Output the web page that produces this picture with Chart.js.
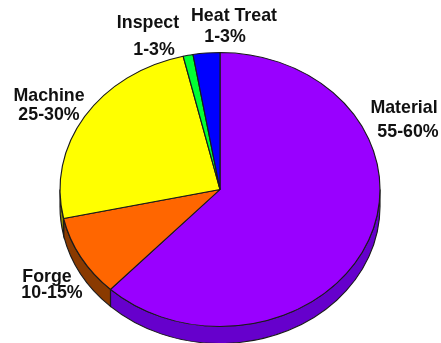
<!DOCTYPE html>
<html>
<head>
<meta charset="utf-8">
<style>
  html, body { margin: 0; background: #fff; }
  canvas { display: block; }
</style>
<script src="https://cdn.jsdelivr.net/npm/chart.js@4/dist/chart.umd.min.js"></script>
</head>
<body>
<canvas id="costPie" width="441" height="343"></canvas>
<script>
const categories = ['Material', 'Forge', 'Machine', 'Inspect', 'Heat Treat']
const ranges = ['55-60%', '10-15%', '25-30%', '1-3%', '1-3%']
const shares = [62, 9.6, 24.7, 1, 2.7]
const faceColors = ['#9900FF', '#FF6600', '#FFFF00', '#00FF33', '#0000FF']
const wallColors = ['#6600CC', '#8A3A00', '#8A8A00', '#008A1C', '#00008A']

// label anchors: name x, name y, range x, range y
const labelSpots = [
  [404, 108, 408, 132],
  [47, 277, 52, 293],
  [49, 96, 49, 115],
  [148, 23, 154, 50],
  [234, 16, 225, 37],
]

const stretchX = 160 / 137
const wallDepth = 17

function stretch(ctx, cx) {
  ctx.translate(cx, 0)
  ctx.scale(stretchX, 1)
  ctx.translate(-cx, 0)
}

// the pie controller only draws a flat circle, so the oval and the rim are done here
const tiltedPie = {
  id: 'tiltedPie',
  beforeDatasetsDraw(chart) {
    const ctx = chart.ctx
    const arcs = chart.getDatasetMeta(0).data

    // left on the stack until afterDatasetsDraw so the slices get stretched too
    ctx.save()
    stretch(ctx, arcs[0].x)

    arcs.forEach((arc, i) => {
      // angles start at -PI/2, so the lower half is 0..PI
      const from = Math.max(arc.startAngle, 0)
      const to = Math.min(arc.endAngle, Math.PI)
      if (to <= from) return

      ctx.beginPath()
      ctx.arc(arc.x, arc.y, arc.outerRadius, from, to)
      ctx.arc(arc.x, arc.y + wallDepth, arc.outerRadius, to, from, true)
      ctx.closePath()
      ctx.fillStyle = wallColors[i]
      ctx.fill()
      ctx.lineWidth = 1
      ctx.strokeStyle = '#1a1a1a'
      ctx.stroke()
    })
  },
  afterDatasetsDraw(chart) {
    const ctx = chart.ctx
    ctx.restore()

    ctx.save()
    ctx.fillStyle = '#111'
    ctx.font = 'bold 17.8px "Liberation Sans", Arial, sans-serif'
    ctx.textAlign = 'center'
    ctx.textBaseline = 'middle'
    categories.forEach((name, i) => {
      const [nameX, nameY, rangeX, rangeY] = labelSpots[i]
      ctx.fillText(name, nameX, nameY)
      ctx.fillText(ranges[i], rangeX, rangeY)
    })
    ctx.restore()
  },
}

new Chart(document.getElementById('costPie').getContext('2d'), {
  type: 'pie',
  data: {
    labels: categories,
    datasets: [
      {
        data: shares,
        backgroundColor: faceColors,
        borderColor: '#1a1a1a',
        borderWidth: 1,
        borderAlign: 'center',
      },
    ],
  },
  options: {
    responsive: false,
    animation: false,
    layout: { padding: { top: 52, bottom: 16, left: 0, right: 1 } },
    plugins: { legend: { display: false }, tooltip: { enabled: false } },
  },
  plugins: [tiltedPie],
})
</script>
</body>
</html>
